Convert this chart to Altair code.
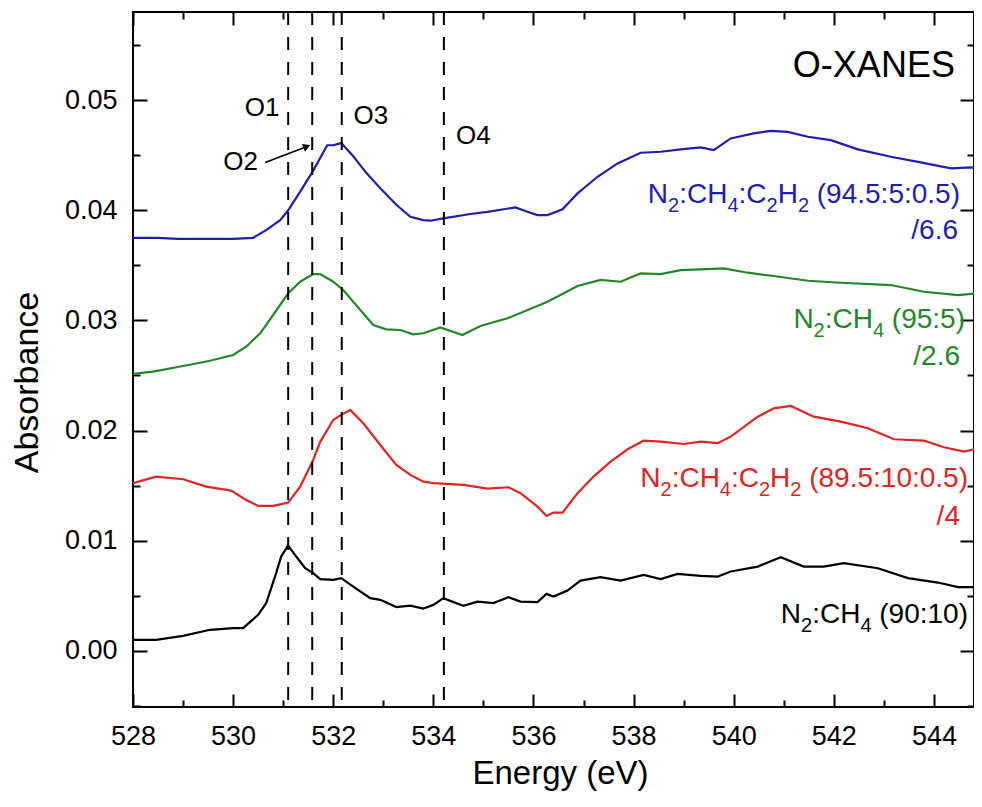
import altair as alt
import pandas as pd

FONT = "Liberation Sans"

# ---------------- data ----------------
series_names = ["blue", "green", "red", "black"]
series_colors = ["#1e1eb0", "#23872a", "#e02424", "#000000"]

blue_e = [528.00, 528.50, 528.90, 529.50, 530.00, 530.40, 530.66, 530.94, 531.10, 531.34, 531.60, 531.88,
          532.00, 532.16, 532.40, 532.66, 532.94, 533.26, 533.54, 533.80, 533.94, 534.20, 534.74, 535.08,
          535.64, 535.88, 536.08, 536.28, 536.58, 536.88, 537.28, 537.68, 538.14, 538.54, 538.94, 539.34,
          539.60, 539.94, 540.40, 540.74, 541.08, 541.48, 541.94, 542.48, 543.14, 543.68, 544.34, 544.74, 545.00]
blue_a = [0.0375, 0.0375, 0.0374, 0.0374, 0.0374, 0.0375, 0.0382, 0.0391, 0.0400, 0.0417, 0.0436, 0.0459,
          0.0459, 0.0461, 0.0449, 0.0434, 0.0420, 0.0405, 0.0394, 0.0391, 0.03905, 0.03926, 0.03966, 0.03986,
          0.04026, 0.03986, 0.03956, 0.03956, 0.04008, 0.04153, 0.04304, 0.04425, 0.04522, 0.04531, 0.04553, 0.04571,
          0.04546, 0.04652, 0.04698, 0.04721, 0.04712, 0.04667, 0.04637, 0.04553, 0.04486, 0.04440, 0.04380, 0.04389, 0.04371]

green_e = [528.00, 528.40, 529.00, 529.54, 530.00, 530.26, 530.54, 530.80, 531.10, 531.34, 531.60, 531.74,
           532.00, 532.20, 532.54, 532.80, 533.06, 533.34, 533.60, 533.80, 534.14, 534.58, 534.94, 535.48,
           536.28, 536.88, 537.34, 537.74, 538.14, 538.54, 538.94, 539.34, 539.80, 540.28, 540.80, 541.48,
           542.14, 543.14, 543.80, 544.48, 545.00]
green_a = [0.02514, 0.02535, 0.02586, 0.02634, 0.02686, 0.02761, 0.02883, 0.03049, 0.03246, 0.03351, 0.03421, 0.03421,
           0.03351, 0.03276, 0.03094, 0.02958, 0.02919, 0.02913, 0.02874, 0.02883, 0.02937, 0.02868, 0.02949, 0.03019,
           0.03170, 0.03312, 0.03367, 0.03351, 0.03427, 0.03421, 0.03457, 0.03464, 0.03473, 0.03433, 0.03403, 0.03360,
           0.03342, 0.03321, 0.03260, 0.03230, 0.03251]

red_e = [528.00, 528.46, 529.00, 529.46, 529.96, 530.26, 530.50, 530.80, 531.10, 531.34, 531.60, 531.74,
         532.00, 532.16, 532.34, 532.60, 532.94, 533.26, 533.54, 533.80, 534.00, 534.60, 535.08, 535.50,
         535.74, 536.08, 536.26, 536.40, 536.58, 536.88, 537.20, 537.54, 537.88, 538.20, 538.54, 539.00,
         539.34, 539.68, 539.94, 540.48, 540.80, 541.14, 541.60, 542.14, 542.68, 543.20, 543.80, 544.20,
         544.60, 545.00]
red_a = [0.01522, 0.01582, 0.01558, 0.01491, 0.01455, 0.01370, 0.01316, 0.01316, 0.01346, 0.01491, 0.01733, 0.01899,
         0.02096, 0.02142, 0.02187, 0.02066, 0.01869, 0.01688, 0.01597, 0.01536, 0.01522, 0.01506, 0.01473, 0.01485,
         0.01431, 0.01309, 0.01225, 0.01255, 0.01255, 0.01431, 0.01582, 0.01718, 0.01830, 0.01908, 0.01899, 0.01878,
         0.01899, 0.01885, 0.01945, 0.02126, 0.02202, 0.02223, 0.02126, 0.02081, 0.02021, 0.01921, 0.01908, 0.01848,
         0.01809, 0.01848]

black_e = [528.00, 528.46, 529.00, 529.54, 530.00, 530.20, 530.50, 530.66, 530.86, 530.96, 531.10, 531.26,
           531.44, 531.60, 531.74, 532.00, 532.16, 532.40, 532.74, 532.94, 533.26, 533.54, 533.80, 534.00,
           534.20, 534.60, 534.88, 535.20, 535.50, 535.74, 536.08, 536.26, 536.40, 536.68, 536.94, 537.34,
           537.74, 538.20, 538.54, 538.88, 539.34, 539.68, 539.94, 540.48, 540.94, 541.40, 541.80, 542.20,
           542.88, 543.48, 544.08, 544.48, 545.00]
black_a = [0.00100, 0.00100, 0.00136, 0.00191, 0.00206, 0.00206, 0.00327, 0.00433, 0.00705, 0.00856, 0.00956, 0.00856,
           0.00750, 0.00705, 0.00651, 0.00644, 0.00660, 0.00583, 0.00478, 0.00463, 0.00397, 0.00411, 0.00384, 0.00417,
           0.00478, 0.00408, 0.00447, 0.00433, 0.00487, 0.00447, 0.00442, 0.00517, 0.00493, 0.00547, 0.00638, 0.00669,
           0.00638, 0.00690, 0.00651, 0.00699, 0.00681, 0.00674, 0.00720, 0.00765, 0.00850, 0.00765, 0.00765, 0.00796,
           0.00750, 0.00660, 0.00620, 0.00578, 0.00578]

# dashed marker lines O1..O4
marker_e = [531.10, 531.58, 532.17, 534.21]
marker_text = ["O1", "O2", "O3", "O4"]
marker_label_e = [530.58, 530.15, 532.75, 534.80]
marker_label_a = [0.04927, 0.04437, 0.04855, 0.04673]

# arrow O2 -> line
arrow_e = [530.64, 531.45]
arrow_a = [0.04434, 0.04575]

# series labels ("_d" marks a subscript digit)
label_text = ["N_2:CH_4:C_2H_2 (94.5:5:0.5)", "/6.6",
              "N_2:CH_4 (95:5)", "/2.6",
              "N_2:CH_4:C_2H_2 (89.5:10:0.5)", "/4",
              "N_2:CH_4 (90:10)"]
label_series = ["blue", "blue", "green", "green", "red", "red", "black"]
label_e = [544.52, 544.48, 544.62, 544.52, 544.68, 544.52, 544.68]   # right edge
label_a = [0.04065, 0.03739, 0.02928, 0.02595, 0.01491, 0.01143, 0.00251]  # baseline

title_text = ["O-XANES"]
title_e = [542.80]
title_a = [0.05309]

x_ticks = [528, 529, 530, 531, 532, 533, 534, 535, 536, 537, 538, 539, 540, 541, 542, 543, 544]
y_ticks = [-0.005, 0.0, 0.005, 0.01, 0.015, 0.02, 0.025, 0.03, 0.035, 0.04, 0.045, 0.05, 0.055]

X_MIN, X_MAX = 528, 544.8
Y_MIN, Y_MAX = -0.0051, 0.058
PLOT_W, PLOT_H = 841, 695
MAIN_FS, SUB_FS, SUB_DY = 28, 20, 9

# ---------------- tables ----------------
rows = []
for name, es, vs in zip(series_names, [blue_e, green_e, red_e, black_e], [blue_a, green_a, red_a, black_a]):
    for e, v in zip(es, vs):
        rows.append({"series": name, "energy": e, "absorbance": v})
df = pd.DataFrame(rows)

# Arial / Liberation Sans advance widths (em) used to lay out label pieces
ADV = {"N": 0.722, "C": 0.722, "H": 0.722, ":": 0.278, " ": 0.278, "(": 0.333, ")": 0.333,
       ".": 0.278, "/": 0.278}
for d in "0123456789":
    ADV[d] = 0.556


def split_label(s):
    segs, buf, i = [], "", 0
    while i < len(s):
        if s[i] == "_":
            if buf:
                segs.append((buf, False))
                buf = ""
            segs.append((s[i + 1], True))
            i += 2
        else:
            buf += s[i]
            i += 1
    if buf:
        segs.append((buf, False))
    return segs


px_per_e = PLOT_W / (X_MAX - X_MIN)
seg_rows = []
for txt, ser, xr, yb in zip(label_text, label_series, label_e, label_a):
    x = xr
    for seg, sub in reversed(split_label(txt)):
        fs = SUB_FS if sub else MAIN_FS
        seg_rows.append({"energy": x, "absorbance": yb, "text": seg, "series": ser, "sub": sub})
        x -= sum(ADV.get(c, 0.556) for c in seg) * fs / px_per_e
df_seg = pd.DataFrame(seg_rows)
df_main = df_seg[~df_seg["sub"]]
df_sub = df_seg[df_seg["sub"]]

df_mark = pd.DataFrame({"energy": marker_e})
df_mlab = pd.DataFrame({"energy": marker_label_e, "absorbance": marker_label_a, "text": marker_text})
df_arrow = pd.DataFrame({"energy": arrow_e, "absorbance": arrow_a})
df_head = df_arrow.tail(1)
df_title = pd.DataFrame({"energy": title_e, "absorbance": title_a, "text": title_text})

xs = alt.Scale(domain=[X_MIN, X_MAX], nice=False, zero=False)
ys = alt.Scale(domain=[Y_MIN, Y_MAX], nice=False, zero=False)
cs = alt.Scale(domain=series_names, range=series_colors)

x_tick_size = {"condition": {"test": "datum.value % 2 == 0", "value": -13}, "value": -7}
y_tick_size = {"condition": {"test": "round(datum.value * 1000) % 10 == 0", "value": -14}, "value": -7}

common = dict(grid=False, domain=False, tickColor="black", tickWidth=2, labelFlush=False, labelOverlap=False)

x_bottom = alt.Axis(orient="bottom", values=x_ticks, format="d",
                    labelExpr="datum.value % 2 == 0 ? datum.label : ''",
                    tickSize=x_tick_size, labelPadding=29, labelFontSize=27, labelFont=FONT, labelColor="black",
                    title="Energy (eV)", titleFontSize=33, titleFont=FONT, titleFontWeight="normal",
                    titleColor="black", titlePadding=2, titleX=427, **common)
y_left = alt.Axis(orient="left", values=y_ticks, format=".2f",
                  labelExpr="round(datum.value * 1000) % 10 == 0 ? datum.label : ''",
                  tickSize=y_tick_size, labelPadding=30, labelFontSize=27, labelFont=FONT, labelColor="black",
                  title="Absorbance", titleFontSize=34, titleFont=FONT, titleFontWeight="normal",
                  titleColor="black", titlePadding=20, titleY=370, **common)
x_top = alt.Axis(orient="top", values=x_ticks, labels=False, title=None, tickSize=x_tick_size, **common)
y_right = alt.Axis(orient="right", values=y_ticks, labels=False, title=None, tickSize=y_tick_size, **common)

lines = alt.Chart(df).mark_line(strokeWidth=2.2, clip=True).encode(
    x=alt.X("energy:Q", scale=xs, axis=x_bottom),
    y=alt.Y("absorbance:Q", scale=ys, axis=y_left),
    color=alt.Color("series:N", scale=cs, legend=None),
    detail="series:N",
)

rules = alt.Chart(df_mark).mark_rule(color="black", strokeWidth=2, strokeDash=[13, 12]).encode(
    x=alt.X("energy:Q", scale=xs, axis=x_top),
)

mlabels = alt.Chart(df_mlab).mark_text(font=FONT, fontSize=26, color="black", align="center",
                                       baseline="middle").encode(
    x=alt.X("energy:Q", scale=xs, axis=None),
    y=alt.Y("absorbance:Q", scale=ys, axis=y_right),
    text="text:N",
)

arrow_line = alt.Chart(df_arrow).mark_line(color="black", strokeWidth=1.6).encode(
    x=alt.X("energy:Q", scale=xs, axis=None),
    y=alt.Y("absorbance:Q", scale=ys, axis=None),
)
arrow_head = alt.Chart(df_head).mark_point(shape="triangle", filled=True, color="black", size=70,
                                           angle=68, opacity=1).encode(
    x=alt.X("energy:Q", scale=xs, axis=None),
    y=alt.Y("absorbance:Q", scale=ys, axis=None),
)

slabels = alt.Chart(df_main).mark_text(font=FONT, fontSize=MAIN_FS, align="right", baseline="alphabetic").encode(
    x=alt.X("energy:Q", scale=xs, axis=None),
    y=alt.Y("absorbance:Q", scale=ys, axis=None),
    text="text:N",
    color=alt.Color("series:N", scale=cs, legend=None),
)
ssubs = alt.Chart(df_sub).mark_text(font=FONT, fontSize=SUB_FS, align="right", baseline="alphabetic",
                                    dy=SUB_DY).encode(
    x=alt.X("energy:Q", scale=xs, axis=None),
    y=alt.Y("absorbance:Q", scale=ys, axis=None),
    text="text:N",
    color=alt.Color("series:N", scale=cs, legend=None),
)

ttl = alt.Chart(df_title).mark_text(font=FONT, fontSize=36, color="black", align="center",
                                    baseline="middle").encode(
    x=alt.X("energy:Q", scale=xs, axis=None),
    y=alt.Y("absorbance:Q", scale=ys, axis=None),
    text="text:N",
)

chart = alt.layer(lines, rules, mlabels, arrow_line, arrow_head, slabels, ssubs, ttl).resolve_axis(
    x="independent", y="independent"
).properties(
    width=PLOT_W, height=PLOT_H,
    padding={"left": 125, "top": 4, "right": 0, "bottom": 86},
    autosize=alt.AutoSizeParams(type="none"),
    background="white",
).configure_view(stroke="black", strokeWidth=2)

chart.save("out.html", embed_options={"renderer": "svg", "actions": False})
